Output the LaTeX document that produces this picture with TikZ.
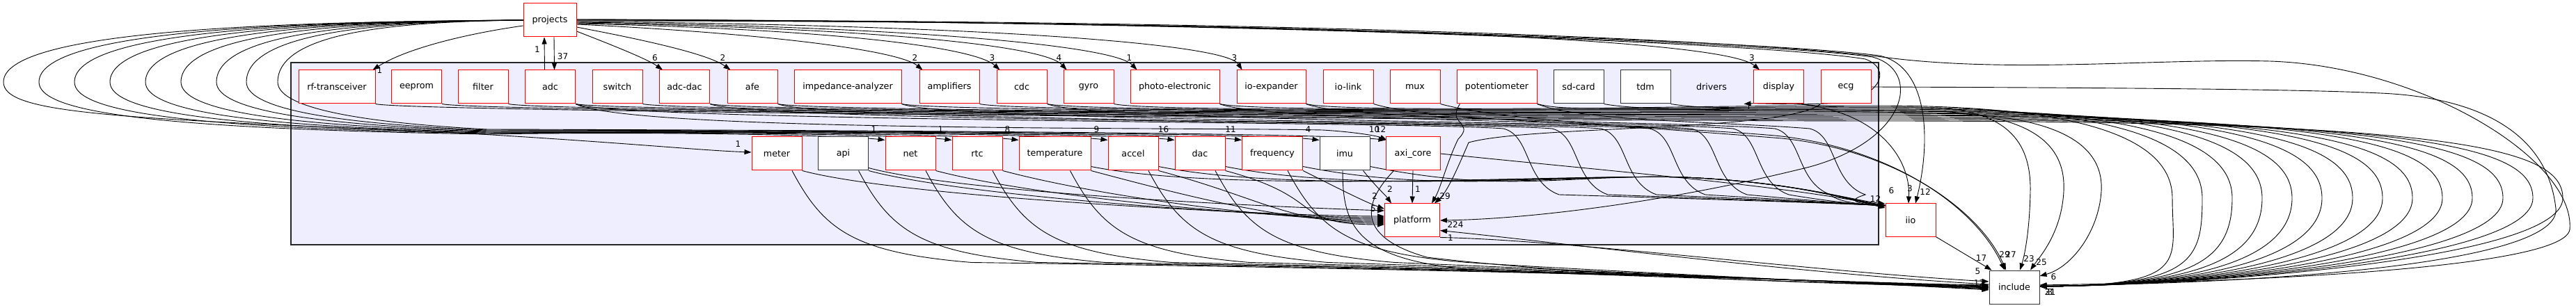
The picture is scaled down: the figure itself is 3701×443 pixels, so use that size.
\documentclass[tikz,border=0pt]{standalone}
\usepackage{fontspec}
\setmainfont{DejaVu Sans}
\usetikzlibrary{arrows.meta,calc}
\pgfdeclarelayer{bg}
\pgfdeclarelayer{edges}
\pgfsetlayers{bg,edges,main}
\definecolor{clusterfill}{HTML}{EEEEFF}

\tikzset{
  dirnode/.style={draw=red, fill=white, line width=1pt, minimum height=48pt, minimum width=72pt, inner sep=0pt, font=\fontsize{12.7}{15}\selectfont},
  leafnode/.style={dirnode, draw=black!80},
  deparrow/.style={line width=0.9pt, -{Triangle[length=10pt,width=7pt]}},
  cnt/.style={font=\fontsize{12}{14}\selectfont, inner sep=0pt},
}

\begin{document}
\begin{tikzpicture}[x=1pt,y=-1pt]
\useasboundingbox (0,0) rectangle (3701,443);
\begin{pgfonlayer}{bg}
\draw[fill=clusterfill, draw=black!85, line width=1.1pt] (418,90) rectangle (2699,352);
\end{pgfonlayer}

% outside the cluster
\node[dirnode, minimum width=76pt] (prj) at (790,29) {projects};
\node[dirnode] (iio) at (2745,317) {iio};
\node[leafnode] (inc) at (2894,413) {include};

% drivers, first row
\node[dirnode, minimum width=110pt] (rft) at (484,125) {rf-transceiver};
\node[dirnode] (eep) at (598.5,125) {eeprom};
\node[dirnode] (flt) at (694,125) {filter};
\node[dirnode] (adc) at (790.5,125) {adc};
\node[dirnode] (swi) at (887,125) {switch};
\node[dirnode] (add) at (983.5,125) {adc-dac};
\node[dirnode] (afe) at (1081,125) {afe};
\node[dirnode, minimum width=154pt] (imp) at (1218,125) {impedance-analyzer};
\node[dirnode, minimum width=86pt] (amp) at (1364,125) {amplifiers};
\node[dirnode] (cdc) at (1468,125) {cdc};
\node[dirnode] (gyr) at (1564,125) {gyro};
\node[dirnode, minimum width=128pt] (pho) at (1688,125) {photo-electronic};
\node[dirnode, minimum width=99pt] (iox) at (1826.5,125) {io-expander};
\node[dirnode] (iol) at (1937,125) {io-link};
\node[dirnode] (mux) at (2033,125) {mux};
\node[dirnode, minimum width=115pt] (pot) at (2150.5,125) {potentiometer};
\node[leafnode] (sdc) at (2268,125) {sd-card};
\node[leafnode] (tdm) at (2364,125) {tdm};
\node[dirnode, draw=none, fill=none, minimum width=92pt] (drv) at (2459,125) {drivers};
\node[dirnode] (dsp) at (2555.5,125) {display};
\node[dirnode] (ecg) at (2652,125) {ecg};

% drivers, second row
\node[dirnode] (mtr) at (1116,221) {meter};
\node[leafnode] (api) at (1211.5,221) {api};
\node[dirnode] (net) at (1308,221) {net};
\node[dirnode] (rtc) at (1404,221) {rtc};
\node[dirnode, minimum width=103pt] (tmp) at (1515.5,221) {temperature};
\node[dirnode] (acc) at (1628,221) {accel};
\node[dirnode] (dac) at (1724,221) {dac};
\node[dirnode, minimum width=87pt] (frq) at (1828,221) {frequency};
\node[leafnode] (imu) at (1932,221) {imu};
\node[dirnode, minimum width=78pt] (axi) at (2030,221) {axi\_core};
\node[dirnode, minimum width=79pt] (plt) at (2029,317) {platform};

\begin{pgfonlayer}{edges}
% projects <-> adc
\draw[deparrow] ($(prj.south)+(6,0)$) -- ($(adc.north)+(6,0)$) node[cnt, xshift=12pt, yshift=19pt] {37};
\draw[deparrow] ($(adc.north)+(-8,0)$) -- ($(prj.south)+(-8,0)$) node[cnt, xshift=-10pt, yshift=-18pt] {1};
\draw[deparrow] ($(prj.west)+(0,8)$) .. controls (660,50) and (580,72) .. ($(rft.north east)+(-4,0)$) node[cnt, xshift=10pt, yshift=-1pt] {1};

% projects -> first row
\draw[deparrow] ($(prj.east)+(0,16)$) .. controls (880,65) and (930,85) .. ($(add.north west)+(5,0)$) node[cnt, xshift=-11pt, yshift=17pt] {6};
\draw[deparrow] ($(prj.east)+(0,10)$) .. controls (950,62) and (1020,80) .. ($(afe.north west)+(5,0)$) node[cnt, xshift=-11pt, yshift=17pt] {2};
\draw[deparrow] ($(prj.east)+(0,6)$) .. controls (1100,48) and (1290,72) .. ($(amp.north west)+(5,0)$) node[cnt, xshift=-11pt, yshift=17pt] {2};
\draw[deparrow] ($(prj.east)+(0,5)$) .. controls (1200,42) and (1400,68) .. ($(cdc.north west)+(5,0)$) node[cnt, xshift=-11pt, yshift=17pt] {3};
\draw[deparrow] ($(prj.east)+(0,4)$) .. controls (1250,40) and (1500,65) .. ($(gyr.north west)+(5,0)$) node[cnt, xshift=-11pt, yshift=17pt] {4};
\draw[deparrow] ($(prj.east)+(0,3)$) .. controls (1300,38) and (1600,65) .. ($(pho.north west)+(10,0)$) node[cnt, xshift=-11pt, yshift=17pt] {1};
\draw[deparrow] ($(prj.east)+(0,2)$) .. controls (1400,36) and (1760,62) .. ($(iox.north west)+(8,0)$) node[cnt, xshift=-11pt, yshift=17pt] {3};
\draw[deparrow] ($(prj.east)+(0,1)$) .. controls (1800,30) and (2470,52) .. ($(dsp.north west)+(9,0)$) node[cnt, xshift=-11pt, yshift=17pt] {3};

% projects -> far right
\draw[deparrow] (prj.east) .. controls (1800,28) and (2500,55) .. (2720,84) .. controls (2900,105) and (3100,84) .. (3261,88) .. controls (3480,95) and (3700,230) .. (3692,330) .. controls (3685,385) and (3250,405) .. ($(inc.east)+(0,-3)$);
\draw[deparrow] (prj.east) .. controls (1800,30) and (2550,60) .. (2700,80) .. controls (2770,95) and (2775,200) .. ($(iio.north)+(7,0)$) node[cnt, xshift=14pt, yshift=16pt] {12};
\draw[deparrow] ($(prj.east)+(0,-1)$) .. controls (1800,30) and (2550,62) .. (2690,82) .. controls (2760,100) and (2745,200) .. (2600,240) .. controls (2400,290) and (2200,315) .. (plt.east) node[cnt, xshift=22pt, yshift=-6pt] {224};
\draw[deparrow] ($(prj.east)+(0,-1)$) .. controls (1800,31) and (2540,62) .. (2680,85) .. controls (2720,100) and (2700,140) .. (2640,148) .. controls (2580,152) and (2530,148) .. (drv.south east) node[cnt, xshift=7pt, yshift=-4pt] {1};

% projects -> second row, round the left
\draw[deparrow] (prj.west) .. controls (380,31) and (5,45) .. (5,118) .. controls (5,162) and (150,170) .. (640,190) .. controls (900,205) and (1000,216) .. ($(mtr.west)+(0,-2)$) node[cnt, xshift=-19pt, yshift=12pt] {1};
\foreach \xk/\cx/\yb/\tg/\lb in {56/404/193/net/1, 107/430/192/rtc/1, 158/455/191/tmp/8, 209/480/190/acc/9, 260/506/189/dac/16, 311/531/188/frq/11, 354/553/187/imu/4, 399/575/186/axi/10}
  \draw[deparrow] (prj.west) .. controls (\cx,31) and (\xk,45) .. (\xk,118) .. controls (\xk,160) and (\xk+150,\yb-8) .. (700,\yb) .. controls ($(\tg.north west)+(-300,-8)$) and ($(\tg.north west)+(-50,-1)$) .. ($(\tg.north west)+(0,5)$) node[cnt, xshift=-16pt, yshift=15pt] {\lb};
\draw[deparrow] (adc.south east) .. controls +(80,40) and (1700,183) .. (1900,187) .. controls (1950,190) and (1980,196) .. ($(axi.north west)+(2,5)$) node[cnt, xshift=-9pt, yshift=15pt] {12};

% first row -> include, round the right
\foreach \n/\X/\yb/\lb in {rft/3682/174/, eep/3639/172/, flt/3596/170/, adc/3552/168/, swi/3509/166/, add/3466/165/, afe/3423/163/, imp/3380/162/, amp/3336/160/, cdc/3293/159/, gyr/3250/157/, pho/3207/156/21, iox/3164/154/31, pot/3121/152/3}
  \draw[deparrow] (\n.south east) .. controls +(50,12) and (2300,\yb) .. (2700,\yb) .. controls (\X-150,\yb) and (\X,\yb+40) .. (\X,285) .. controls (\X,375) and (3150,410) .. ($(inc.east)+(0,-1)$) node[cnt, xshift=15pt, yshift=-8pt] {\lb};
\draw[deparrow] (sdc.south east) .. controls +(60,12) and (2600,158) .. (2800,163) .. controls (2980,168) and (3022,220) .. (3019,275) .. controls (3015,335) and (2975,385) .. ($(inc.east)+(0,-16)$) node[cnt, xshift=20pt, yshift=-1pt] {6};
\draw[deparrow] (tdm.south east) .. controls +(60,10) and (2600,156) .. (2780,160) .. controls (2930,165) and (2968,215) .. (2965,275) .. controls (2962,335) and (2930,370) .. ($(inc.north)+(23,0)$) node[cnt, xshift=16pt, yshift=11pt] {25};
\draw[deparrow] ($(dsp.south east)+(-4,0)$) .. controls +(50,8) and (2700,152) .. (2780,155) .. controls (2890,160) and (2918,210) .. (2917,275) .. controls (2916,335) and (2908,370) .. ($(inc.north)+(8,0)$) node[cnt, xshift=13pt, yshift=16pt] {23};
\draw[deparrow] (ecg.east) .. controls (3000,126) and (3300,128) .. (3420,134) .. controls (3560,140) and (3660,190) .. (3672,300) .. controls (3680,380) and (3250,408) .. ($(inc.east)+(0,-2)$);
\draw[deparrow] (iol.south east) .. controls +(80,25) and (2350,178) .. (2550,195) .. controls (2720,212) and (2840,300) .. ($(inc.north)+(-14,0)$) node[cnt, xshift=0pt, yshift=22pt] {29};
\draw[deparrow] (mux.south east) .. controls +(80,22) and (2350,182) .. (2560,199) .. controls (2725,216) and (2845,303) .. ($(inc.north)+(-12,0)$) node[cnt, xshift=7pt, yshift=22pt] {27};

% first row -> iio
\foreach \n/\Xs/\dx/\lb in {adc/2190/0/, add/2260/0/, afe/2330/0/, imp/2400/0/, cdc/2460/0/, pho/2520/0/, iox/2580/0/, pot/2630/17/6}
  \draw[deparrow] (\n.south east) .. controls +(60,25) and (\Xs-150,175) .. (\Xs-30,185) .. controls (\Xs+10,195) and (\Xs,262) .. (\Xs+50,280) .. controls (2640,292) and (2690,295) .. ($(iio.north west)+(\dx,3)$) node[cnt, xshift=-8pt, yshift=21pt] {\lb};
\draw[deparrow] ($(dsp.south east)+(-10,0)$) .. controls (2700,160) and (2745,230) .. ($(iio.north)+(-3,0)$) node[cnt, xshift=2pt, yshift=21pt] {3};

% second row -> platform
\foreach \n/\dy in {mtr/-6, api/-4, net/-2, rtc/0, tmp/2, acc/4, dac/6}
  \draw[deparrow] (\n.south east) .. controls +(150,40) and (1850,317+\dy) .. ($(plt.west)+(0,\dy)$);
\draw[deparrow] (frq.south east) .. controls +(50,25) and (1960,290) .. ($(plt.north west)+(0,8)$) node[cnt, xshift=-14pt, yshift=18pt] {2};
\draw[deparrow] ($(imu.south east)+(-10,0)$) .. controls +(20,25) and (1990,280) .. ($(plt.north west)+(10,0)$) node[cnt, xshift=-2pt, yshift=20pt] {2};
\draw[deparrow] (axi.south) -- (plt.north) node[cnt, xshift=8pt, yshift=20pt] {1};
\draw[deparrow] ($(pot.south west)+(5,0)$) .. controls +(-20,30) and (2120,175) .. (2095,200) .. controls (2080,230) and (2070,270) .. ($(plt.north east)+(-12,0)$) node[cnt, xshift=19pt, yshift=10pt] {29};
\draw[deparrow] (ecg.south west) .. controls +(-50,40) and (2200,180) .. (2110,205) .. controls (2095,240) and (2080,275) .. ($(plt.north east)+(-8,0)$);
\draw[deparrow] ($(api.south east)+(0,-4)$) .. controls +(150,40) and (1900,300) .. ($(plt.west)+(0,-14)$) node[cnt, xshift=-16pt, yshift=3pt] {5};

% second row -> include, under the cluster
\foreach \n/\dy in {mtr/-3, api/-2, net/-1, rtc/0, tmp/1, acc/2, dac/3, frq/4}
  \draw[deparrow] ($(\n.south)+(22,0)$) .. controls +(45,85) and ($(\n.south)+(110,118)$) .. ($(\n.south)+(280,132)$) .. controls (2300,390) and (2700,408) .. ($(inc.west)+(0,\dy)$);
\draw[deparrow] ($(imu.south)+(-3,0)$) .. controls (1929,330) and (1950,380) .. (2150,390) .. controls (2450,400) and (2700,410) .. (inc.west);
\draw[deparrow] ($(axi.south west)+(12,0)$) .. controls (1960,290) and (1945,340) .. (2050,370) .. controls (2300,400) and (2700,410) .. (inc.west) node[cnt, xshift=-14pt, yshift=6pt] {12};

% second row -> iio
\foreach \n/\dy in {tmp/-18, acc/-20, dac/-22, frq/-24, imu/-20}
  \draw[deparrow] ($(\n.south east)+(0,-6)$) .. controls +(200,40) and (2250,250) .. (2420,255) .. controls (2580,262) and (2660,288) .. ($(iio.west)+(0,\dy)$);
\draw[deparrow] (axi.east) .. controls (2300,245) and (2550,265) .. ($(iio.north west)+(0,4)$) node[cnt, xshift=-14pt, yshift=10pt] {12};

% platform, iio, include
\draw[deparrow] ($(iio.south east)+(-2,-2)$) -- ($(inc.north west)+(4,0)$) node[cnt, xshift=-15pt, yshift=17pt] {17};
\draw[deparrow] (plt.south east) .. controls (2250,345) and (2600,390) .. ($(inc.west)+(0,-8)$) node[cnt, xshift=-16pt, yshift=15pt] {5};
\draw[deparrow] ($(inc.west)+(0,-4)$) .. controls (2600,395) and (2250,350) .. ($(plt.south east)+(0,-10)$) node[cnt, xshift=15pt, yshift=-11pt] {1};
\end{pgfonlayer}
\end{tikzpicture}
\end{document}
